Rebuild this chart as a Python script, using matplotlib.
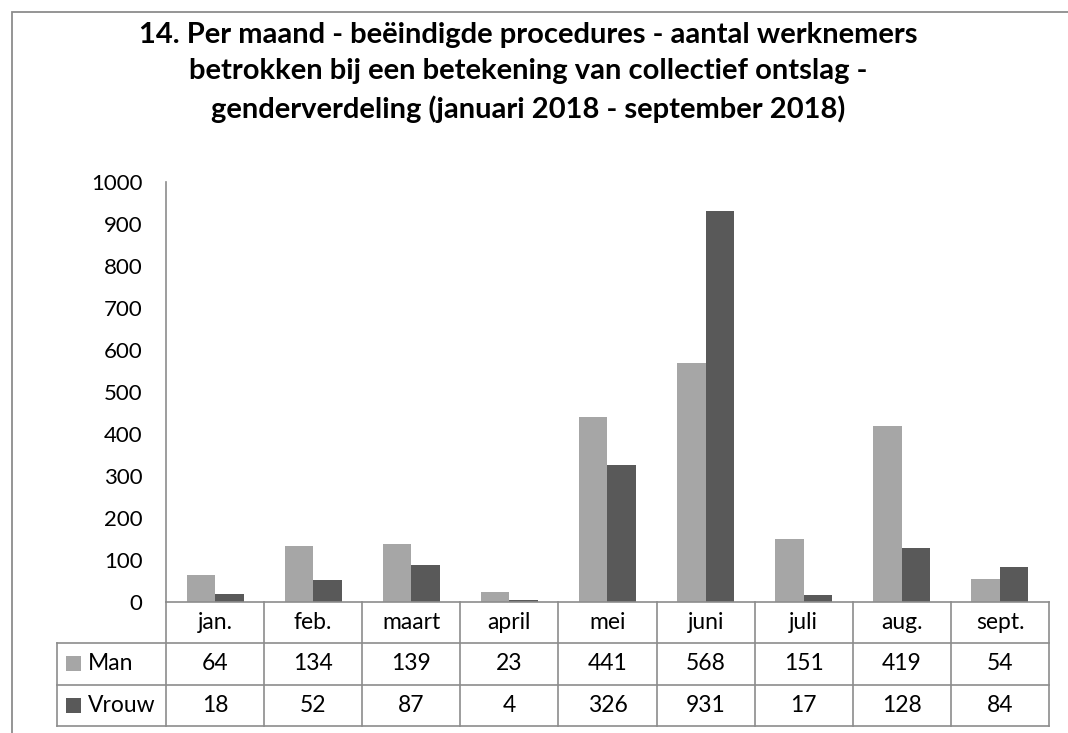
import numpy as np
import matplotlib.pyplot as plt
from matplotlib.patches import Rectangle

plt.rcParams['font.family'] = ['Lato', 'DejaVu Sans']

maanden = ['jan.', 'feb.', 'maart', 'april', 'mei', 'juni', 'juli', 'aug.', 'sept.']
man = [64, 134, 139, 23, 441, 568, 151, 419, 54]
vrouw = [18, 52, 87, 4, 326, 931, 17, 128, 84]
reeksen = ['Man', 'Vrouw']
kleuren = ['#a6a6a6', '#595959']

W, H = 1068, 733
fig = plt.figure(figsize=(W / 100, H / 100), dpi=100)

# outer chart frame (right and bottom edges fall outside the image)
fig.patches.append(Rectangle((12 / W, -0.05), 1.1, 1 - 12 / H + 0.05,
                             transform=fig.transFigure, fill=False,
                             edgecolor='#8c8c8c', linewidth=1.3))

left, right, top, bottom = 166, 1049, 182, 602
ax = fig.add_axes([left / W, 1 - bottom / H, (right - left) / W, (bottom - top) / H])

x = np.arange(len(maanden))
w = 0.29
ax.bar(x - w / 2, man, w, color=kleuren[0])
ax.bar(x + w / 2, vrouw, w, color=kleuren[1])
ax.set_xlim(-0.5, len(maanden) - 0.5)
ax.set_ylim(0, 1000)
ax.set_yticks(range(0, 1001, 100))
ax.tick_params(axis='y', labelsize=16, length=0, pad=17)
ax.set_xticks([])
for s in ['top', 'right']:
    ax.spines[s].set_visible(False)
for s in ['left', 'bottom']:
    ax.spines[s].set_color('#8c8c8c')
    ax.spines[s].set_linewidth(1.2)

fig.suptitle('14. Per maand - beëindigde procedures - aantal werknemers\n'
             'betrokken bij een betekening van collectief ontslag -\n'
             'genderverdeling (januari 2018 - september 2018)',
             x=528 / W, y=1 - 22 / H, fontsize=21, fontweight='bold',
             linespacing=1.5, va='top')

# data table below the axis
axh = bottom - top
colw = (right - left) / len(maanden)
rij = 41.3 / axh
tr = ax.get_xaxis_transform()
lab_left = -0.5 - (left - 57) / colw
lc = '#8c8c8c'
kw = dict(transform=tr, color=lc, lw=1.2, clip_on=False)
for k in range(1, 4):
    ax.plot([lab_left, len(maanden) - 0.5], [-k * rij, -k * rij], **kw)
for b in np.arange(-0.5, len(maanden), 1.0):
    ax.plot([b, b], [0, -3 * rij], **kw)
ax.plot([lab_left, lab_left], [-rij, -3 * rij], **kw)

fs = 16.5
for i, m in enumerate(maanden):
    ax.text(i, -0.5 * rij, m, transform=tr, ha='center', va='center', fontsize=fs)
    ax.text(i, -1.5 * rij, str(man[i]), transform=tr, ha='center', va='center', fontsize=fs)
    ax.text(i, -2.5 * rij, str(vrouw[i]), transform=tr, ha='center', va='center', fontsize=fs)

sq = 15
for r, (naam, kl) in enumerate(zip(reeksen, kleuren)):
    yc = -(1.5 + r) * rij
    ax.add_patch(Rectangle((lab_left + 9 / colw, yc - sq / 2 / axh), sq / colw, sq / axh,
                           transform=tr, facecolor=kl, clip_on=False))
    ax.text(lab_left + 31 / colw, yc, naam, transform=tr,
            ha='left', va='center', fontsize=fs)

fig.savefig('out.png', dpi=100)
